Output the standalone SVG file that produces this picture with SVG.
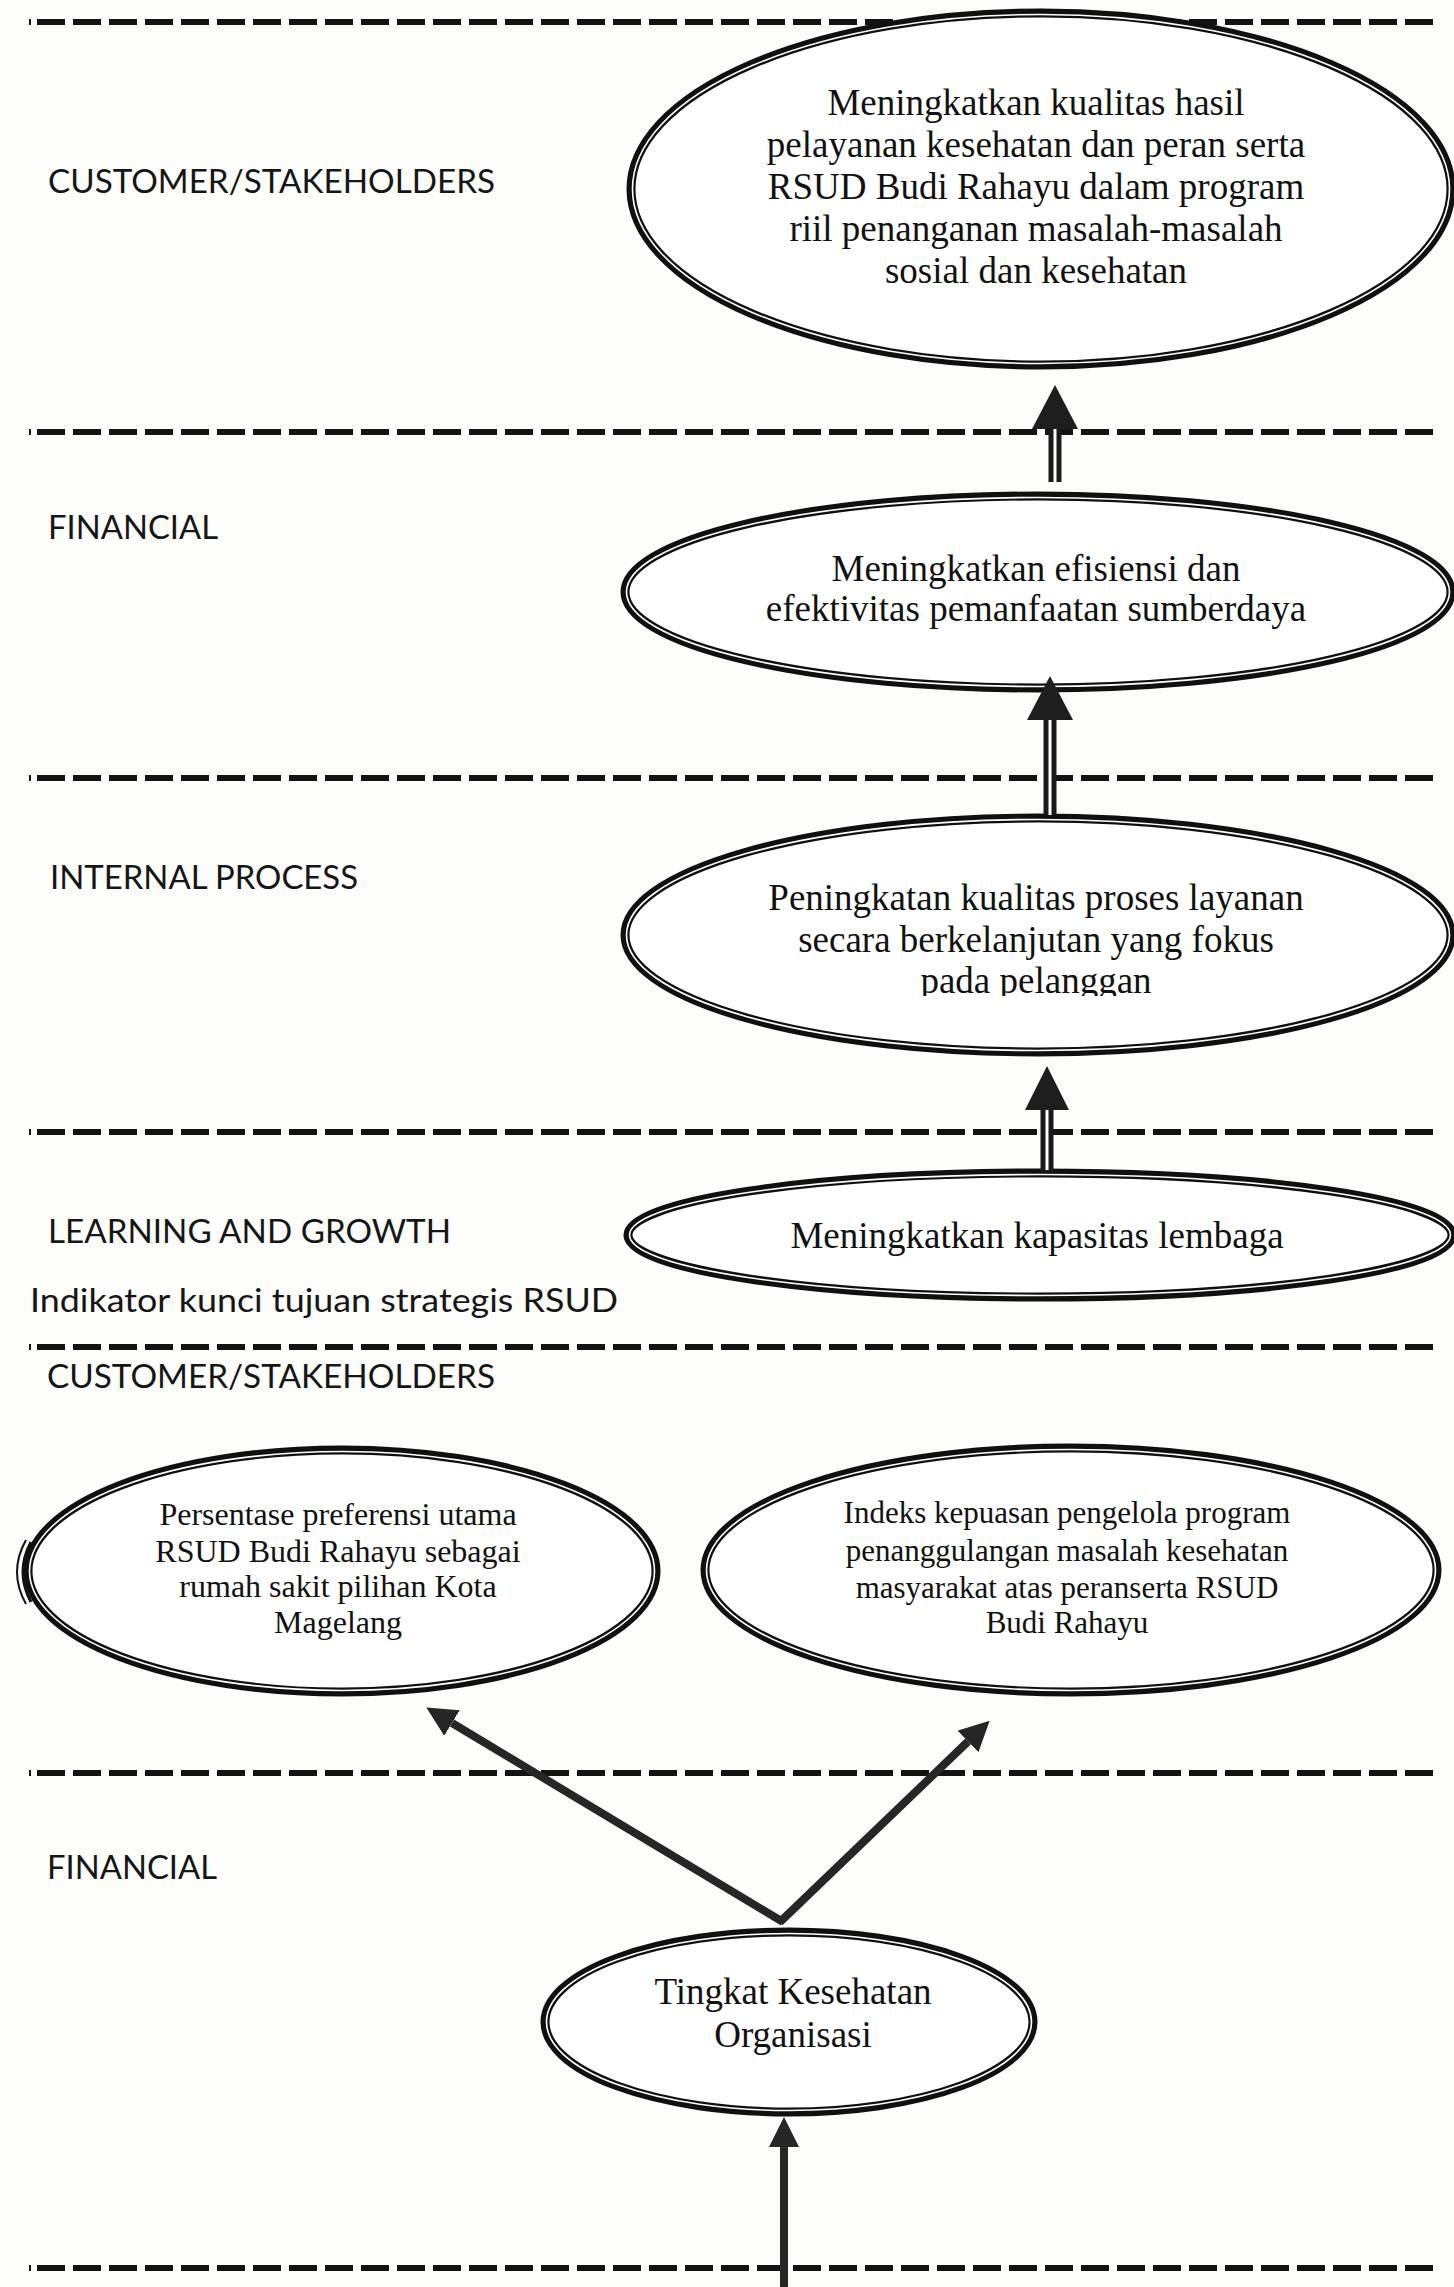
<svg xmlns="http://www.w3.org/2000/svg" width="1454" height="2287" viewBox="0 0 1454 2287">
<style>
.dash{stroke:#131313;stroke-width:6;stroke-dasharray:28 8;fill:none}
.tick{stroke:#151515;stroke-width:2}
.lab{font-family:Lato,"Open Sans",sans-serif;font-size:32px;fill:#161616}
.ntx{font-family:"Liberation Serif","Times New Roman",serif;fill:#111111;text-anchor:middle}
.ell{fill:#ffffff;stroke:#101010;stroke-width:9}
.ell2{fill:none;stroke:#ffffff;stroke-width:1.6}
.shaft{stroke:#1a1a1a;stroke-width:13}
.shaftw{stroke:#ffffff;stroke-width:3}
.head{fill:#1e1e1e}
.ln{stroke:#262626;stroke-width:8;fill:none}
</style>
<defs>
<marker id="ah" markerUnits="userSpaceOnUse" viewBox="0 0 30 30" refX="0" refY="15" markerWidth="30" markerHeight="30" orient="auto">
<path d="M0,0 L30,15 L0,30 z" fill="#262626"/>
</marker>
<clipPath id="clip3"><rect x="600" y="800" width="854" height="196"/></clipPath>
</defs>
<rect x="0" y="0" width="1454" height="2287" fill="#fdfdfc"/>

<g id="dividers">
<line class="dash" x1="37" y1="22" x2="1437" y2="22"/>
<line class="dash" x1="37" y1="432" x2="1437" y2="432"/>
<line class="dash" x1="37" y1="778" x2="1437" y2="778"/>
<line class="dash" x1="37" y1="1132" x2="1437" y2="1132"/>
<line class="dash" x1="37" y1="1347" x2="1437" y2="1347"/>
<line class="dash" x1="37" y1="1773" x2="1437" y2="1773"/>
<line class="dash" x1="37" y1="2268" x2="1437" y2="2268"/>
<line class="tick" x1="30" y1="19" x2="30" y2="25"/>
<line class="tick" x1="30" y1="429" x2="30" y2="435"/>
<line class="tick" x1="30" y1="775" x2="30" y2="781"/>
<line class="tick" x1="30" y1="1129" x2="30" y2="1135"/>
<line class="tick" x1="30" y1="1344" x2="30" y2="1350"/>
<line class="tick" x1="30" y1="1770" x2="30" y2="1776"/>
<line class="tick" x1="30" y1="2265" x2="30" y2="2271"/>
</g>

<g id="labels">
<text class="lab" x="48" y="193" textLength="447" lengthAdjust="spacingAndGlyphs">CUSTOMER/STAKEHOLDERS</text>
<text class="lab" x="48" y="539" textLength="170" lengthAdjust="spacingAndGlyphs">FINANCIAL</text>
<text class="lab" x="50" y="889" textLength="308" lengthAdjust="spacingAndGlyphs">INTERNAL PROCESS</text>
<text class="lab" x="48" y="1243" textLength="403" lengthAdjust="spacingAndGlyphs">LEARNING AND GROWTH</text>
<text class="lab" x="30" y="1312" textLength="588" lengthAdjust="spacingAndGlyphs">Indikator kunci tujuan strategis RSUD</text>
<text class="lab" x="47" y="1388" textLength="448" lengthAdjust="spacingAndGlyphs">CUSTOMER/STAKEHOLDERS</text>
<text class="lab" x="47" y="1879" textLength="170" lengthAdjust="spacingAndGlyphs">FINANCIAL</text>
</g>

<g id="node-cs-goal">
<ellipse class="ell" cx="1041" cy="189" rx="410" ry="176"/>
<ellipse class="ell2" cx="1041" cy="189" rx="408.5" ry="174.5"/>
<text class="ntx" font-size="37" x="1036" y="115">Meningkatkan kualitas hasil</text>
<text class="ntx" font-size="37" x="1036" y="157">pelayanan kesehatan dan peran serta</text>
<text class="ntx" font-size="37" x="1036" y="199">RSUD Budi Rahayu dalam program</text>
<text class="ntx" font-size="37" x="1036" y="241">riil penanganan masalah-masalah</text>
<text class="ntx" font-size="37" x="1036" y="283">sosial dan kesehatan</text>
</g>

<g id="node-fin-goal">
<ellipse class="ell" cx="1038" cy="592" rx="413" ry="96"/>
<ellipse class="ell2" cx="1038" cy="592" rx="411.5" ry="94.5"/>
<text class="ntx" font-size="37" x="1036" y="581">Meningkatkan efisiensi dan</text>
<text class="ntx" font-size="37" x="1036" y="621">efektivitas pemanfaatan sumberdaya</text>
</g>

<g id="node-ip-goal">
<ellipse class="ell" cx="1038" cy="935" rx="413" ry="117"/>
<ellipse class="ell2" cx="1038" cy="935" rx="411.5" ry="115.5"/>
<text class="ntx" font-size="37" x="1036" y="910">Peningkatan kualitas proses layanan</text>
<text class="ntx" font-size="37" x="1036" y="952">secara berkelanjutan yang fokus</text>
<text class="ntx" font-size="37" x="1036" y="993" clip-path="url(#clip3)">pada pelanggan</text>
</g>

<g id="node-lg-goal">
<ellipse class="ell" cx="1040" cy="1235" rx="412" ry="62"/>
<ellipse class="ell2" cx="1040" cy="1235" rx="410.5" ry="60.5"/>
<text class="ntx" font-size="37" x="1037" y="1248">Meningkatkan kapasitas lembaga</text>
</g>

<g id="node-ind-preferensi">
<path d="M26,1540 Q8,1572 26,1604" fill="none" stroke="#121212" stroke-width="2"/>
<path d="M31,1542 Q15,1572 31,1602" fill="none" stroke="#121212" stroke-width="3"/>
<ellipse class="ell" cx="342" cy="1571" rx="314" ry="121"/>
<ellipse class="ell2" cx="342" cy="1571" rx="312.5" ry="119.5"/>
<text class="ntx" font-size="32" x="338" y="1525">Persentase preferensi utama</text>
<text class="ntx" font-size="32" x="338" y="1562">RSUD Budi Rahayu sebagai</text>
<text class="ntx" font-size="32" x="338" y="1597">rumah sakit pilihan Kota</text>
<text class="ntx" font-size="32" x="338" y="1633">Magelang</text>
</g>

<g id="node-ind-kepuasan">
<ellipse class="ell" cx="1071" cy="1570" rx="366" ry="122"/>
<ellipse class="ell2" cx="1071" cy="1570" rx="364.5" ry="120.5"/>
<text class="ntx" font-size="31" x="1067" y="1523">Indeks kepuasan pengelola program</text>
<text class="ntx" font-size="31" x="1067" y="1561">penanggulangan masalah kesehatan</text>
<text class="ntx" font-size="31" x="1067" y="1598">masyarakat atas peranserta RSUD</text>
<text class="ntx" font-size="31" x="1067" y="1633">Budi Rahayu</text>
</g>

<g id="node-ind-tingkat">
<ellipse class="ell" cx="789" cy="2022" rx="244" ry="90"/>
<ellipse class="ell2" cx="789" cy="2022" rx="242.5" ry="88.5"/>
<text class="ntx" font-size="37" x="793" y="2004">Tingkat Kesehatan</text>
<text class="ntx" font-size="37" x="793" y="2047">Organisasi</text>
</g>

<g id="connectors">
<line class="shaft" x1="1055" y1="482" x2="1055" y2="426"/>
<line class="shaftw" x1="1055" y1="482" x2="1055" y2="428"/>
<polygon class="head" points="1055,385 1032,429 1078,429"/>

<line class="shaft" x1="1050" y1="815" x2="1050" y2="717"/>
<line class="shaftw" x1="1050" y1="815" x2="1050" y2="719"/>
<polygon class="head" points="1050,676 1027,720 1073,720"/>

<line class="shaft" x1="1047" y1="1172" x2="1047" y2="1107"/>
<line class="shaftw" x1="1047" y1="1170" x2="1047" y2="1109"/>
<polygon class="head" points="1047,1066 1025,1110 1069,1110"/>

<line class="ln" x1="783" y1="1922" x2="452" y2="1723" marker-end="url(#ah)"/>
<line class="ln" x1="780" y1="1922" x2="968" y2="1741.5" marker-end="url(#ah)"/>
<line class="ln" x1="784" y1="2287" x2="784" y2="2147" marker-end="url(#ah)"/>
</g>
</svg>
